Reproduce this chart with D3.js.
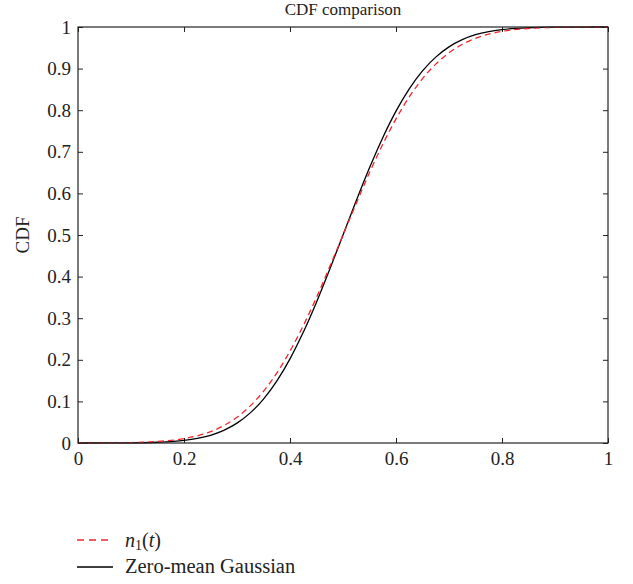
<!DOCTYPE html>
<html>
<head>
<meta charset="utf-8">
<script src="https://cdn.jsdelivr.net/npm/d3@7"></script>
<style>
  body { margin: 0; background: #fff; }
  text { font-family: "Liberation Serif", "DejaVu Serif", serif; fill: #222; }
</style>
</head>
<body>
<svg id="chart" width="633" height="584"></svg>
<script>
// x values (t) shared by both curves
var tValues = [0, 0.05, 0.1, 0.15, 0.2, 0.225, 0.25, 0.275, 0.3, 0.325, 0.35, 0.375, 0.4, 0.425, 0.45, 0.475, 0.5,
               0.525, 0.55, 0.575, 0.6, 0.625, 0.65, 0.675, 0.7, 0.725, 0.75, 0.775, 0.8, 0.85, 0.9, 0.95, 1];

// n1(t) - rød stiplet kurve
var n1Cdf = [0.0001, 0.0003, 0.001, 0.0036, 0.0105, 0.0172, 0.0272, 0.0417, 0.062, 0.0892, 0.1243, 0.168, 0.221, 0.282, 0.350, 0.424, 0.5,
             0.576, 0.650, 0.718, 0.779, 0.832, 0.8757, 0.9108, 0.938, 0.9583, 0.9728, 0.9828, 0.9895, 0.9964, 0.999, 0.9997, 0.9999];

// Zero-mean Gaussian - sort kurve
var gaussCdf = [0, 0.0001, 0.0004, 0.0018, 0.0062, 0.011, 0.0186, 0.0304, 0.0478, 0.0724, 0.1056, 0.1488, 0.2023, 0.266, 0.3385, 0.4175, 0.5,
                0.5825, 0.6615, 0.734, 0.7977, 0.8512, 0.8944, 0.9276, 0.9522, 0.9696, 0.9814, 0.989, 0.9938, 0.9982, 0.9996, 0.9999, 1];

var xTicks = [0, 0.2, 0.4, 0.6, 0.8, 1];
var yTicks = [0, 0.1, 0.2, 0.3, 0.4, 0.5, 0.6, 0.7, 0.8, 0.9, 1];

var svg = d3.select("#chart");
var plotLeft = 78, plotRight = 608, plotTop = 27, plotBottom = 443;

var x = d3.scaleLinear().domain([0, 1]).range([plotLeft, plotRight]);
var y = d3.scaleLinear().domain([0, 1]).range([plotBottom, plotTop]);

var fmt = function(d) { return d === 0 || d === 1 ? String(d) : d3.format(".1f")(d); };

// Akser med indadvendte ticks (alle fire sider)
var axes = [
    d3.axisBottom(x).tickValues(xTicks).tickFormat(fmt),
    d3.axisTop(x).tickValues(xTicks).tickFormat(""),
    d3.axisLeft(y).tickValues(yTicks).tickFormat(fmt),
    d3.axisRight(y).tickValues(yTicks).tickFormat("")
];
var axisPos = [
    "translate(0," + plotBottom + ")",
    "translate(0," + plotTop + ")",
    "translate(" + plotLeft + ",0)",
    "translate(" + plotRight + ",0)"
];
var axisPad = [9, 9, 7, 7];

axes.forEach(function(ax, i) {
    var g = svg.append("g").attr("transform", axisPos[i])
        .call(ax.tickSizeInner(-5).tickSizeOuter(0).tickPadding(axisPad[i]));
    g.select(".domain").remove();
    g.selectAll(".tick line").attr("stroke", "#222");
    g.selectAll(".tick text").style("font-size", "19px").attr("fill", "#222");
});

// Kurver
var line = d3.line()
    .x(function(d) { return x(d[0]); })
    .y(function(d) { return y(d[1]); })
    .curve(d3.curveMonotoneX);

svg.append("path")
    .datum(tValues.map(function(t, i) { return [t, gaussCdf[i]]; }))
    .attr("d", line)
    .attr("fill", "none")
    .attr("stroke", "#000")
    .attr("stroke-width", 1.3);

svg.append("path")
    .datum(tValues.map(function(t, i) { return [t, n1Cdf[i]]; }))
    .attr("d", line)
    .attr("fill", "none")
    .attr("stroke", "#f0262c")
    .attr("stroke-width", 1.3)
    .attr("stroke-dasharray", "6,4");

// Ramme
svg.append("rect")
    .attr("x", plotLeft).attr("y", plotTop)
    .attr("width", plotRight - plotLeft).attr("height", plotBottom - plotTop)
    .attr("fill", "none")
    .attr("stroke", "#222")
    .attr("stroke-width", 1.2);

// Titel og y-label
svg.append("text")
    .attr("x", (plotLeft + plotRight) / 2).attr("y", 15)
    .attr("text-anchor", "middle")
    .style("font-size", "17px")
    .text("CDF comparison");

svg.append("text")
    .attr("transform", "translate(29," + ((plotTop + plotBottom) / 2) + ") rotate(-90)")
    .attr("text-anchor", "middle")
    .style("font-size", "19px")
    .text("CDF");

// Legende
var legend = svg.append("g");
legend.append("line")
    .attr("x1", 77).attr("x2", 113).attr("y1", 540).attr("y2", 540)
    .attr("stroke", "#f0262c").attr("stroke-width", 1.3).attr("stroke-dasharray", "7,5");
var lt = legend.append("text").attr("x", 125).attr("y", 547).style("font-size", "20px");
lt.append("tspan").style("font-style", "italic").text("n");
lt.append("tspan").attr("dy", 3).style("font-size", "14px").text("1");
lt.append("tspan").attr("dy", -3).text("(");
lt.append("tspan").style("font-style", "italic").text("t");
lt.append("tspan").text(")");

legend.append("line")
    .attr("x1", 77).attr("x2", 113).attr("y1", 567).attr("y2", 567)
    .attr("stroke", "#000").attr("stroke-width", 1.3);
legend.append("text").attr("x", 125).attr("y", 573).style("font-size", "20.5px")
    .text("Zero-mean Gaussian");
</script>
</body>
</html>
